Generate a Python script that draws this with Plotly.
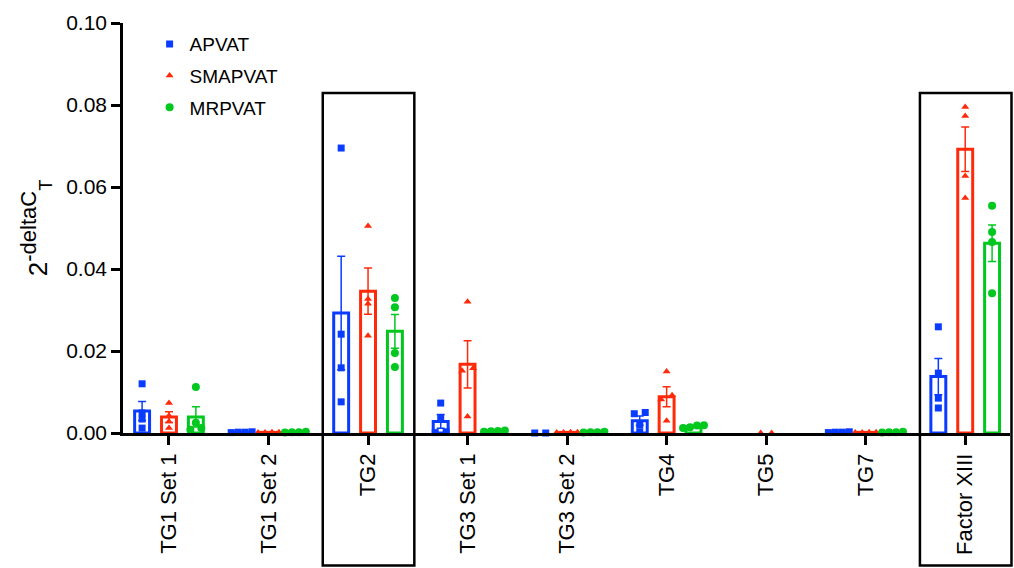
import numpy as np
import plotly.graph_objects as go

categories = ["TG1 Set 1", "TG1 Set 2", "TG2", "TG3 Set 1", "TG3 Set 2",
              "TG4", "TG5", "TG7", "Factor XIII"]
series_names = ["APVAT", "SMAPVAT", "MRPVAT"]

# individual replicate values (empty = no data)
apvat_points = [
    [0.0120, 0.0049, 0.0034, 0.0012],
    [0.0003, 0.0002, 0.0002, 0.0001],
    [0.0695, 0.0241, 0.0159, 0.0076],
    [0.0073, 0.0036, 0.0003, 0.0001],
    [0.0, 0.0],
    [0.0050, 0.0047, 0.0020, 0.0003],
    [],
    [0.0003, 0.0002, 0.0002, 0.0001],
    [0.0259, 0.0146, 0.0085, 0.0061],
]
smapvat_points = [
    [0.0073, 0.0042, 0.0028, 0.0012],
    [0.0002, 0.0002, 0.0001, 0.0001],
    [0.0505, 0.0327, 0.0315, 0.0237],
    [0.0320, 0.0158, 0.0152, 0.0040],
    [0.0002, 0.0002, 0.0001, 0.0001],
    [0.0150, 0.0092, 0.0082, 0.0030],
    [0.0, 0.0],
    [0.0002, 0.0002, 0.0001, 0.0001],
    [0.0795, 0.0773, 0.0627, 0.0573],
]
mrpvat_points = [
    [0.0112, 0.0025, 0.0012, 0.0008],
    [0.0003, 0.0002, 0.0002, 0.0001],
    [0.0329, 0.0307, 0.0195, 0.0161],
    [0.0006, 0.0005, 0.0004, 0.0003],
    [0.0003, 0.0002, 0.0002, 0.0001],
    [0.0019, 0.0018, 0.0014, 0.0012],
    [],
    [0.0003, 0.0002, 0.0002, 0.0001],
    [0.0554, 0.0490, 0.0466, 0.0341],
]
boxed_categories = ["TG2", "Factor XIII"]
y_ticks = [0.00, 0.02, 0.04, 0.06, 0.08, 0.10]

all_points = [apvat_points, smapvat_points, mrpvat_points]
colors = ["#0A3CFF", "#FF2A0A", "#00C81E"]
symbols = ["square", "triangle-up", "circle"]
sizes = [7, 7, 8]

FONT = "Liberation Sans, Arial, Helvetica, sans-serif"
slot = 0.27
bar_w = 0.15
x_range = [-0.462, 8.45]

fig = go.Figure()

# bars (mean) with SEM error bars
for s, name in enumerate(series_names):
    xs, ys, es = [], [], []
    for i, pts in enumerate(all_points[s]):
        arr = np.array(pts, dtype=float)
        xs.append(i + (s - 1) * slot)
        if len(arr) == 0 or arr.mean() == 0:
            ys.append(None)
            es.append(None)
        else:
            ys.append(float(arr.mean()))
            es.append(float(arr.std(ddof=1) / np.sqrt(len(arr))))
    fig.add_trace(go.Bar(
        x=xs, y=ys, width=bar_w, showlegend=False, name=name,
        marker=dict(color="rgba(255,255,255,0)", line=dict(color=colors[s], width=3)),
        error_y=dict(type="data", array=es, color=colors[s], thickness=1.5, width=4),
        hoverinfo="skip",
    ))

# individual points, spread horizontally when they overlap
for s, name in enumerate(series_names):
    xs, ys = [], []
    for i, pts in enumerate(all_points[s]):
        center = i + (s - 1) * slot
        vals = sorted(pts)
        clusters = []
        for v in vals:
            if clusters and v - clusters[-1][-1] < 0.0011:
                clusters[-1].append(v)
            else:
                clusters.append([v])
        for cl in clusters:
            k = len(cl)
            step = 0.07 if k > 2 else 0.11
            for j, v in enumerate(cl):
                xs.append(center + (j - (k - 1) / 2) * step)
                ys.append(v)
    fig.add_trace(go.Scatter(
        x=xs, y=ys, mode="markers", name=name, legendgroup=name,
        marker=dict(symbol=symbols[s], size=sizes[s], color=colors[s]),
        cliponaxis=False,
    ))

# black frames around highlighted categories
for c in boxed_categories:
    i = categories.index(c)
    x0 = (i - 0.455 - x_range[0]) / (x_range[1] - x_range[0])
    x1 = (i + 0.465 - x_range[0]) / (x_range[1] - x_range[0])
    fig.add_shape(type="rect", xref="paper", yref="paper",
                  x0=x0, x1=x1, y0=-0.323, y1=0.829,
                  line=dict(color="black", width=2.5), fillcolor="rgba(0,0,0,0)")

fig.update_layout(
    width=1014, height=568,
    margin=dict(l=123, r=4, t=23, b=135),
    plot_bgcolor="white", paper_bgcolor="white",
    font=dict(family=FONT, color="black"),
    showlegend=True,
    legend=dict(x=0.03, y=0.995, xanchor="left", yanchor="top",
                font=dict(size=19, family=FONT), tracegroupgap=4,
                bgcolor="rgba(0,0,0,0)"),
    xaxis=dict(range=x_range, tickvals=list(range(len(categories))), ticktext=categories,
               tickangle=-90, showline=True, linecolor="black", linewidth=2.5,
               ticks="outside", ticklen=9, tickwidth=2.5, tickcolor="black",
               showgrid=False, zeroline=False, tickfont=dict(size=22, family=FONT)),
    yaxis=dict(range=[0, 0.10], tickvals=y_ticks, tickformat=".2f",
               showline=True, linecolor="black", linewidth=2.5,
               ticks="outside", ticklen=9, tickwidth=2.5, tickcolor="black",
               showgrid=False, zeroline=False, tickfont=dict(size=21, family=FONT),
               title=dict(text='2<sup><span style="font-size:22px">-deltaC</span></sup><sub>T</sub>',
                          font=dict(size=26, family=FONT), standoff=12)),
)

fig.write_html("out.html", config={"displayModeBar": False},
               post_script="document.body.style.margin='0';document.body.style.overflow='hidden';")
